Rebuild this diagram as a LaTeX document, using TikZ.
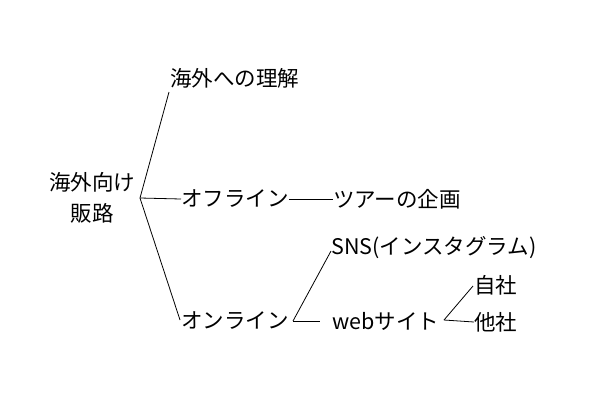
\documentclass[tikz,border=0pt]{standalone}
\usepackage{fontspec}
\setmainfont{Noto Sans CJK JP}
\tikzset{
	item/.style={anchor=west, inner sep=0pt, font=\fontsize{21.5}{26}\selectfont},
	branch/.style={thick, black},
}
\begin{document}
\begin{tikzpicture}[x=1pt, y=-1pt]
	\useasboundingbox (0,0) rectangle (600,400);
	
	\node (root) [inner sep=0pt, align=center, font=\fontsize{21.5}{31}\selectfont] at (92,198) {海外向け\\販路};
	\coordinate (j0) at (140,198);
	
	\node (know) [item] at (170,78) {海外への理解};
	\node (off) [item] at (181,199) {オフライン};
	\node (tour) [item] at (333,199) {ツアーの企画};
	\node (on) [item] at (181,321) {オンライン};
	\node (sns) [item] at (331,248) {SNS(インスタグラム)};
	\node (web) [item] at (332,321) {webサイト};
	\node (own) [item] at (474,285) {自社};
	\node (other) [item] at (474,322) {他社};
	
	\coordinate (j1) at (293,321);
	\coordinate (j2) at (444,320);
	
	\begin{scope}[branch]
		\draw (j0) -- (169,92);
		\draw (j0) -- (off.west);
		\draw (j0) -- (180,320);
		\draw (off.east) -- (tour.west);
		\draw (j1) -- (331,251);
		\draw (j1) -- (320,321);
		\draw (j2) -- (473,286);
		\draw (j2) -- (other.west);
	\end{scope}
\end{tikzpicture}
\end{document}
